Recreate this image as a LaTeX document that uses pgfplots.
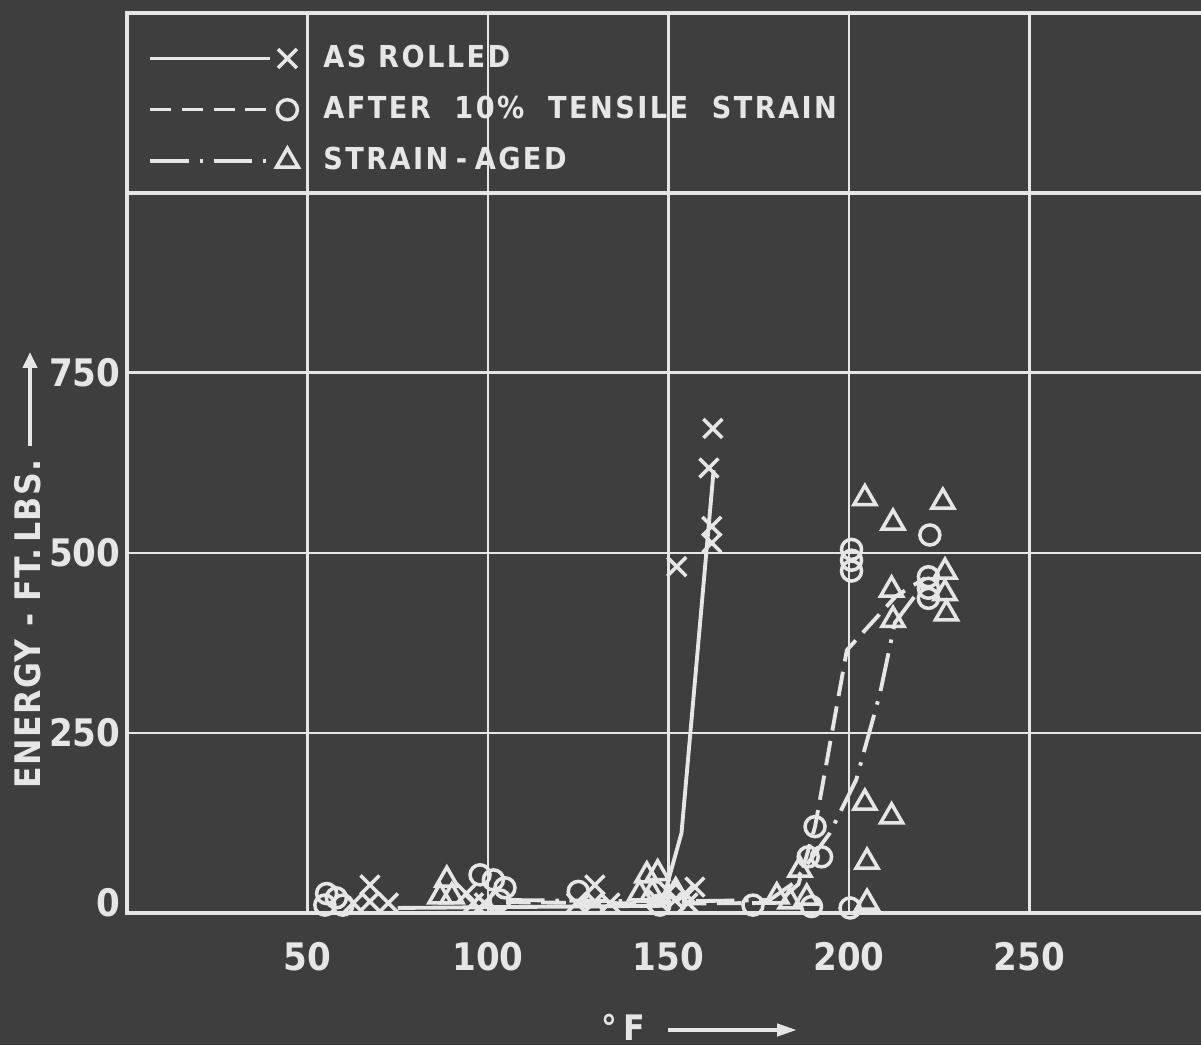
\documentclass[border=0pt]{standalone}
\usepackage{fontspec}
\setmainfont{DejaVu Sans Condensed}
\newfontfamily\lblfont[LetterSpace=8]{DejaVu Sans Condensed}
\newfontfamily\axfont[LetterSpace=4]{DejaVu Sans Condensed}
\newfontfamily\tickfont{DejaVu Sans Condensed}
\usepackage{pgfplots}
\pgfplotsset{compat=1.18}
\usetikzlibrary{arrows.meta}
\definecolor{bg}{RGB}{62,62,62}
\definecolor{fg}{RGB}{230,230,230}

\pgfplotstableread{
x y
75 7
148 10
153.6 111
162.5 615
}\rolledline
\pgfplotstableread{
x y
62.7 14
67.3 39
67.3 16
72.4 14
94 27
96 14
99 14
124.5 14
129.6 39
129.6 16
133.8 14
147 18
150 30
151.8 18
154.6 27
157.3 36
155.4 14
152.3 481
162.3 673
161.2 618
162 537
162 514
}\rolledpts
\pgfplotstableread{
x y
105 15
150 13
180 14
186 40
190.6 120
199.4 365
213 440
221 465
}\strainline
\pgfplotstableread{
x y
55.3 27
58 21
54.8 11
59.8 11
97.8 53
101.5 46
104.7 35
103.3 18
125 30
147.6 11
173.4 11
189.6 9
188.7 78
192.4 78
190.6 120
200.3 7
200.7 505
200.7 490
200.7 475
222 467
222 451
222 437
222.4 525
}\strainpts
\pgfplotstableread{
x y
105 18
150 16
178 18
184.5 41
194.7 111
202 185
208.6 305
212.7 403
221.5 462
}\agedline
\pgfplotstableread{
x y
88.6 46
86.7 23
90 23
144 52
147 55
142 27
145.5 27
152 30
180 23
183.7 16
188.3 21
186.4 60
204.4 153
211.8 134
205 71
205 14
204.4 576
226 571
212.2 542
211.8 449
212.2 407
226.6 474
226.6 444
227 416
}\agedpts

\begin{document}
\begin{tikzpicture}[x=1cm,y=1cm]
\fill[bg] (0,0) rectangle (12.01,10.45);
\useasboundingbox (0,0) rectangle (12.01,10.45);
\begin{axis}[
  at={(1.27cm,1.32cm)}, anchor=south west,
  scale only axis, width=10.83cm, height=9.0cm,
  xmin=0, xmax=300, ymin=0, ymax=1250,
  clip=false,
  /pgf/number format/assume math mode=true,
  axis line style={fg, line width=1.4pt},
  grid=major, major grid style={fg, line width=0.85pt},
  major tick length=0pt, tick style={draw=none},
  ticklabel style={font=\tickfont\bfseries\fontsize{10.8}{12}\selectfont, text=fg, inner sep=0pt},
  xtick={50,100,150,200,250},
  xticklabel style={anchor=center, yshift=-0.44cm},
  ytick={250,500,750},
  yticklabel style={anchor=east, xshift=-0.06cm},
  extra y ticks={0,1000},
  extra y tick labels={0,{}},
  extra y tick style={major grid style={fg, line width=1.4pt}, yticklabel style={yshift=0.1cm}},
  legend cell align=left,
  legend style={draw=none, fill=none, at={(axis cs:5.8,1207)}, anchor=north west,
    inner sep=0pt, row sep=0.235cm, column sep=0.25cm,
    nodes={inner sep=0pt, text=fg, font=\lblfont\bfseries\fontsize{8.6}{10}\selectfont}},
  legend image code/.code={
    \draw[#1,mark=none] (0cm,0cm) -- (1.2cm,0cm);
    \draw[#1] plot coordinates {(1.37cm,0cm)};
  },
]
% legend entries
\addlegendimage{fg, line width=1pt, mark=x, mark size=3.8pt, mark options={solid, line width=1pt}}
\addlegendentry{AS ROLLED}
\addlegendimage{fg, line width=1pt, dash pattern=on 6pt off 3pt, mark=o, mark size=2.85pt, mark options={solid, line width=1pt}}
\addlegendentry{AFTER~~10\%~~TENSILE~~STRAIN}
\addlegendimage{fg, line width=1pt, dash pattern=on 11pt off 3pt on 1pt off 3pt, mark=triangle, mark size=3.6pt, mark options={solid, line width=1pt}}
\addlegendentry{STRAIN\hspace{0.25em}-\hspace{0.25em}AGED}

% lines
\addplot[fg, line width=1.1pt, mark=none, forget plot] table {\rolledline};
\addplot[fg, line width=1.1pt, dash pattern=on 7pt off 3pt, mark=none, forget plot] table {\strainline};
\addplot[fg, line width=1.1pt, dash pattern=on 11pt off 3pt on 1pt off 3pt, mark=none, forget plot] table {\agedline};
% markers
\addplot[fg, only marks, mark=x, mark size=3.8pt, mark options={line width=1pt}, forget plot] table {\rolledpts};
\addplot[fg, only marks, mark=o, mark size=2.85pt, mark options={line width=1pt}, forget plot] table {\strainpts};
\addplot[fg, only marks, mark=triangle, mark size=3.6pt, mark options={line width=1pt}, forget plot] table {\agedpts};
\end{axis}
% axis titles
\node[rotate=90, text=fg, inner sep=0pt, font=\axfont\bfseries\fontsize{10}{12}\selectfont] at (0.28,4.21) {ENERGY\hspace{0.35em}-\hspace{0.35em}FT.\,LBS.};
\draw[fg, line width=1.2pt, -{Triangle[length=0.16cm,width=0.14cm]}] (0.30,5.99) -- (0.30,6.93);
\node[text=fg, inner sep=0pt, font=\axfont\bfseries\fontsize{10}{12}\selectfont] at (6.23,0.18) {°\,F};
\draw[fg, line width=1.2pt, -{Triangle[length=0.2cm,width=0.12cm]}] (6.68,0.15) -- (7.97,0.15);
\end{tikzpicture}
\end{document}
